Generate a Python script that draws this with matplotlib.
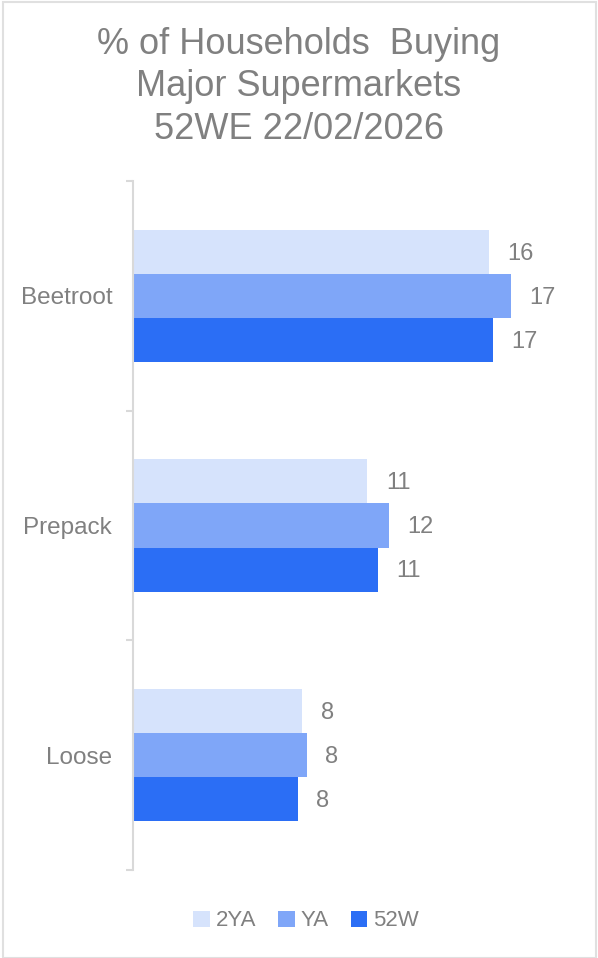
import matplotlib
matplotlib.use("Agg")
import matplotlib.pyplot as plt
from matplotlib.patches import Rectangle
from matplotlib.ticker import FixedLocator
import numpy as np

plt.rcParams['font.family'] = ['Liberation Sans', 'DejaVu Sans']

# Data
categories = ["Beetroot", "Prepack", "Loose"]
series_names = ["2YA", "YA", "52W"]
values_2ya = [16.4, 10.8, 7.8]
values_ya = [17.4, 11.8, 8.0]
values_52w = [16.6, 11.3, 7.6]
colors = ["#D6E3FC", "#7FA6F8", "#2B6EF5"]

title = "% of Households  Buying\nMajor Supermarkets\n52WE 22/02/2026"
text_gray = "#808080"
axis_gray = "#D9D9D9"

W, H = 598, 958
fig = plt.figure(figsize=(W / 100, H / 100), dpi=100)

# Plot area in pixel terms
left_px, right_px, top_px, bottom_px = 133, 567, 181, 870
ax = fig.add_axes([left_px / W, 1 - bottom_px / H,
                   (right_px - left_px) / W, (bottom_px - top_px) / H])

series = [values_2ya, values_ya, values_52w]
y = np.arange(len(categories))
bar_h = 0.192
offsets = [-bar_h, 0, bar_h]

for vals, off, col, name in zip(series, offsets, colors, series_names):
    bars = ax.barh(y + off, vals, height=bar_h, color=col, label=name, zorder=2)
    for b, v in zip(bars, vals):
        ax.text(b.get_width() + 0.85, b.get_y() + b.get_height() / 2 + 0.008,
                f"{v:.0f}", va="center", ha="left", fontsize=17, color=text_gray)

ax.set_xlim(0, 20)
ax.set_ylim(len(categories) - 0.5, -0.5)

ax.set_yticks(y)
ax.set_yticklabels(categories)
ax.yaxis.set_minor_locator(FixedLocator(np.arange(-0.5, len(categories), 1.0)))
ax.tick_params(axis="y", which="major", length=0, pad=15, labelsize=17.5,
               labelcolor=text_gray)
ax.tick_params(axis="y", which="minor", length=5, width=1.5, color=axis_gray)
ax.set_xticks([])

for side in ["top", "right", "bottom"]:
    ax.spines[side].set_visible(False)
ax.spines["left"].set_color(axis_gray)
ax.spines["left"].set_linewidth(1.5)

fig.text(0.5, 1 - 87 / H, title, ha="center", va="center", fontsize=26,
         color=text_gray, linespacing=1.29)

leg = fig.legend(loc="center", bbox_to_anchor=(306 / W, 1 - 921 / H), ncol=3,
                 frameon=False, fontsize=16, labelcolor=text_gray,
                 handlelength=0.75, handleheight=0.75, handletextpad=0.25,
                 columnspacing=1.0)

# Outer chart border
fig.patches.append(Rectangle((3.5 / W, 0.5 / H), (W - 6) / W, (H - 2) / H,
                             transform=fig.transFigure, fill=False,
                             edgecolor="#E0E0E0", linewidth=1.5))

fig.savefig("out.png", dpi=100)
